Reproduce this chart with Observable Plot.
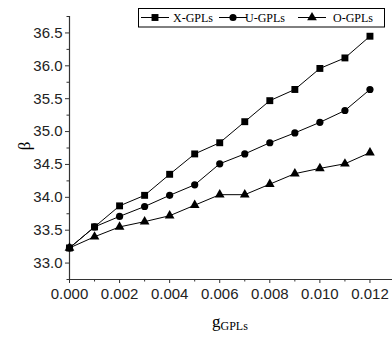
<!DOCTYPE html>
<html><head><meta charset="utf-8">
<script src="https://cdn.jsdelivr.net/npm/d3@7"></script>
<script src="https://cdn.jsdelivr.net/npm/@observablehq/plot@0.6"></script>
<style>body{margin:0;background:#fff}</style>
</head><body><div id="chart"></div>
<script>
const gValues = [0,0.001,0.002,0.003,0.004,0.005,0.006,0.007,0.008,0.009,0.010,0.011,0.012];
const xGPLs = [33.23,33.55,33.87,34.03,34.35,34.66,34.83,35.15,35.47,35.64,35.96,36.12,36.45];
const uGPLs = [33.23,33.55,33.71,33.86,34.03,34.19,34.51,34.66,34.83,34.98,35.14,35.32,35.64];
const oGPLs = [33.23,33.40,33.55,33.63,33.72,33.88,34.04,34.04,34.20,34.36,34.44,34.51,34.68];
const seriesNames = ["X-GPLs","U-GPLs","O-GPLs"];
const symbols = ["square","circle","triangle"];
const yMajor = [33.0,33.5,34.0,34.5,35.0,35.5,36.0,36.5];
const yMinor = [32.75,33.25,33.75,34.25,34.75,35.25,35.75,36.25,36.75];
const xMajor = [0,0.002,0.004,0.006,0.008,0.010,0.012];
const xMinor = [0.001,0.003,0.005,0.007,0.009,0.011];

const series = [xGPLs,uGPLs,oGPLs];
const data = [];
series.forEach((vals,i)=>vals.forEach((v,j)=>data.push({g:gValues[j],b:v,s:seriesNames[i]})));
const rList = [3.9,3.6,3.6];

const axisColor = "#333";
const marks = [
  Plot.ruleX([0],{y1:32.75,y2:36.75,stroke:axisColor,strokeWidth:1.2}),
  Plot.ruleY([32.75],{x1:0,x2:0.0129,stroke:axisColor,strokeWidth:1.2}),
  Plot.axisY({ticks:yMajor,tickFormat:d3.format(".1f"),tickSize:4,tickPadding:3,label:null,fontSize:15,stroke:axisColor,fill:"#222"}),
  Plot.axisY({ticks:yMinor,tickFormat:()=>"",tickSize:2.5,label:null,stroke:axisColor}),
  Plot.axisX({ticks:xMajor,tickFormat:d3.format(".3f"),tickSize:4,tickPadding:5,label:null,fontSize:15,stroke:axisColor,fill:"#222"}),
  Plot.axisX({ticks:xMinor,tickFormat:()=>"",tickSize:2.5,label:null,stroke:axisColor}),
  Plot.line(data,{x:"g",y:"b",z:"s",stroke:"#000",strokeWidth:1}),
];
seriesNames.forEach((name,i)=>{
  marks.push(Plot.dot(data.filter(d=>d.s===name),{x:"g",y:"b",symbol:()=>symbols[i],r:rList[i],fill:"#000",stroke:"none"}));
});

const chart = Plot.plot({
  width:392,height:342,
  marginLeft:69,marginRight:0,marginTop:16,marginBottom:63,
  x:{domain:[0,0.0129]},
  y:{domain:[32.75,36.75]},
  style:{fontFamily:"Liberation Sans, Arial, sans-serif",background:"#fff"},
  marks
});
document.getElementById("chart").appendChild(chart);

// Legend & axis labels
const svg = d3.select(chart);
const lg = svg.append("g").attr("font-family","Liberation Serif, Times New Roman, serif").attr("font-size",12).attr("text-anchor","start");
lg.append("rect").attr("x",138.5).attr("y",8.5).attr("width",246).attr("height",18.5).attr("fill","#fff").attr("stroke","#000").attr("stroke-width",1);
const entries = [{x:141,t:173},{x:219,t:245},{x:298,t:333}];
entries.forEach((e,i)=>{
  lg.append("line").attr("x1",e.x).attr("x2",e.x+28).attr("y1",17.5).attr("y2",17.5).attr("stroke","#000");
  const sym = d3.symbol().type([d3.symbolSquare,d3.symbolCircle,d3.symbolTriangle][i]).size(Math.PI*Math.pow(rList[i],2));
  lg.append("path").attr("d",sym()).attr("transform",`translate(${e.x+14},17.5)`).attr("fill","#000");
  lg.append("text").attr("x",e.t).attr("y",22).attr("text-anchor","start").text(seriesNames[i]);
});
svg.append("text").attr("transform","translate(30,146) rotate(-90)").attr("text-anchor","middle")
  .attr("font-family","Liberation Serif, Times New Roman, serif").attr("font-size",17).text("β");
const xl = svg.append("text").attr("x",212).attr("y",327).attr("text-anchor","start").attr("font-family","Liberation Serif, Times New Roman, serif").attr("font-size",17);
xl.append("tspan").text("g");
xl.append("tspan").attr("font-size",12).attr("dy",3).text("GPLs");
</script></body></html>
